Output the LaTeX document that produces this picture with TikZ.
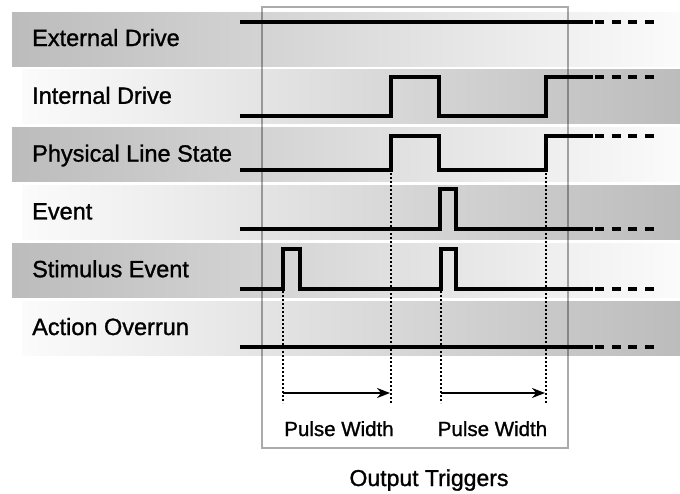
\documentclass[tikz,border=0pt]{standalone}
\usepackage{fontspec}
\setmainfont{Liberation Sans}[FakeBold=1.2]
\usetikzlibrary{arrows.meta,calc}
\definecolor{banddark}{HTML}{BCBCBC}
\definecolor{bandlight}{HTML}{FBFBFB}
\tikzset{
  darkband/.style={left color=banddark, right color=bandlight, draw=none},
  lightband/.style={left color=bandlight, right color=banddark, draw=none},
  rowlabel/.style={anchor=base west, inner sep=0pt,
    font=\fontsize{23.5}{28}\selectfont},
  wave/.style={line width=3.2pt, line join=miter, black},
  wavetail/.style={line width=3.2pt, dash pattern=on 9pt off 7.7pt},
  guide/.style={line width=1.9pt, dash pattern=on 2pt off 2pt},
  pwarrow/.style={-{Stealth[length=13pt,width=10pt]}, line width=2.4pt},
  pwlabel/.style={anchor=base, inner sep=0pt,
    font=\fontsize{20.5}{24}\selectfont},
  triggerbox/.style={draw=black, draw opacity=0.33, line width=2.6pt},
}
\begin{document}
\begin{tikzpicture}[x=1pt, y=-1pt]
\useasboundingbox (0,0) rectangle (680,493);

% row bands and labels
\foreach \row in {0,2,4}{
  \fill[darkband] (12,{12+57.8*\row}) rectangle (680,{66+57.8*\row});
}
\foreach \row in {1,3,5}{
  \fill[lightband] (22,{12+57.8*\row}) rectangle (680,{66+57.8*\row});
}
\node[rowlabel] (lblext)  at (32,46)    {External Drive};
\node[rowlabel] (lblint)  at (32,103.8) {Internal Drive};
\node[rowlabel] (lblphy)  at (32,161.6) {Physical Line State};
\node[rowlabel] (lblevt)  at (32,219.4) {Event};
\node[rowlabel] (lblstim) at (32,277.2) {Stimulus Event};
\node[rowlabel] (lblover) at (32,335)   {Action Overrun};

% output trigger frame
\draw[triggerbox] (262,7) rectangle (568,448);

% waveforms
\draw[wave] (240,22) -- (593,22);
\draw[wave] (240,116) -- (391,116) |- (439,77) |- (546,116) |- (593,77);
\draw[wave] (240,170) -- (391,170) |- (439,136) |- (546,170) |- (593,136);
\draw[wave] (240,229) -- (440,229) |- (456,189) |- (593,229);
\draw[wave] (240,289) -- (283,289) |- (300,249) |- (441,289) |- (456,249) |- (593,289);
\draw[wave] (240,347) -- (593,347);
\foreach \y in {22,77,136,229,289,347}{
  \draw[wavetail] (595,\y) -- (655,\y);
}

% edges and pulse widths
\coordinate (stimA) at (283,291);
\coordinate (lineA) at (391,173);
\coordinate (stimB) at (441,291);
\coordinate (lineB) at (546,173);
\coordinate (guideend) at (0,403);
\foreach \c in {stimA,lineA,stimB,lineB}{
  \draw[guide] (\c) -- (\c |- guideend);
}
\draw[pwarrow] (stimA |- 0,393) -- ($(lineA |- 0,393)+(-1,0)$);
\draw[pwarrow] (stimB |- 0,393) -- ($(lineB |- 0,393)+(-1,0)$);
\node[pwlabel] (pwA) at (339,436) {Pulse Width};
\node[pwlabel] (pwB) at (492.5,436) {Pulse Width};
\node[pwlabel, font=\fontsize{23}{28}\selectfont] (outtrig) at (429,486) {Output Triggers};

\end{tikzpicture}
\end{document}
